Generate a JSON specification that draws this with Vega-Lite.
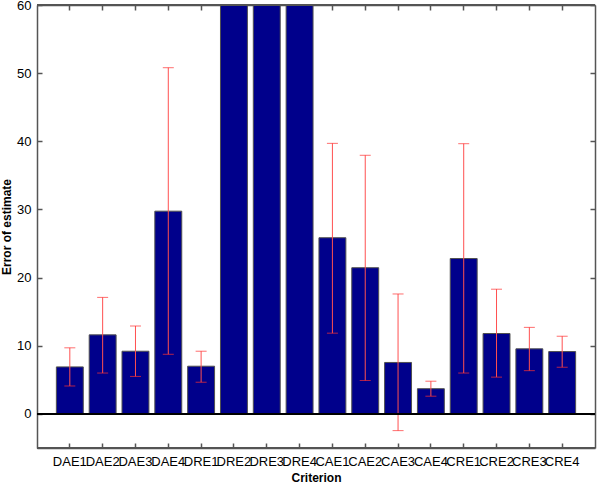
{
  "$schema": "https://vega.github.io/schema/vega-lite/v6.json",
  "width": 558,
  "height": 443,
  "autosize": {"type": "none"},
  "padding": {"left": 37, "top": 5, "right": 5, "bottom": 36},
  "background": "white",
  "config": {
    "font": "Liberation Sans",
    "view": {"stroke": null},
    "axis": {
      "grid": false,
      "domain": true,
      "domainColor": "#555555",
      "domainWidth": 1.5,
      "ticks": true,
      "tickColor": "#555555",
      "tickWidth": 1.5,
      "tickSize": -5,
      "labelColor": "black",
      "labelFontSize": 13,
      "labelFont": "Liberation Sans",
      "titleFont": "Liberation Sans",
      "titleFontSize": 12,
      "titleFontWeight": "bold",
      "titleColor": "black"
    }
  },
  "data": {
    "values": [
      {"name": "DAE1", "value": 6.9, "lo": 4.1, "hi": 9.7},
      {"name": "DAE2", "value": 11.6, "lo": 6.0, "hi": 17.1},
      {"name": "DAE3", "value": 9.2, "lo": 5.5, "hi": 12.9},
      {"name": "DAE4", "value": 29.75, "lo": 8.75, "hi": 50.8},
      {"name": "DRE1", "value": 7.0, "lo": 4.65, "hi": 9.2},
      {"name": "DRE2", "value": 75, "lo": null, "hi": null},
      {"name": "DRE3", "value": 75, "lo": null, "hi": null},
      {"name": "DRE4", "value": 75, "lo": null, "hi": null},
      {"name": "CAE1", "value": 25.85, "lo": 11.85, "hi": 39.7},
      {"name": "CAE2", "value": 21.45, "lo": 4.9, "hi": 37.95},
      {"name": "CAE3", "value": 7.55, "lo": -2.45, "hi": 17.6},
      {"name": "CAE4", "value": 3.7, "lo": 2.6, "hi": 4.8},
      {"name": "CRE1", "value": 22.8, "lo": 6.0, "hi": 39.65},
      {"name": "CRE2", "value": 11.8, "lo": 5.4, "hi": 18.3},
      {"name": "CRE3", "value": 9.55, "lo": 6.35, "hi": 12.7},
      {"name": "CRE4", "value": 9.15, "lo": 6.85, "hi": 11.4}
    ]
  },
  "resolve": {"axis": {"x": "independent", "y": "independent"}},
  "layer": [
    {
      "mark": {"type": "bar", "color": "#00008b", "stroke": "#505050", "strokeWidth": 1, "clip": true},
      "encoding": {
        "x": {
          "field": "name", "type": "nominal", "sort": null,
          "scale": {"paddingInner": 0.18, "paddingOuter": 0.59},
          "axis": {"orient": "bottom", "title": "Criterion", "labelAngle": 0, "labelPadding": 12, "titlePadding": 4}
        },
        "y": {
          "field": "value", "type": "quantitative",
          "scale": {"domain": [-5, 60], "nice": false, "zero": false},
          "axis": {"orient": "left", "title": "Error of estimate", "values": [0, 10, 20, 30, 40, 50, 60], "labelPadding": 11, "titlePadding": 3}
        }
      }
    },
    {
      "mark": {"type": "rule", "color": "#ff5050", "strokeWidth": 1, "clip": true},
      "encoding": {
        "x": {"field": "name", "type": "nominal", "sort": null, "axis": null},
        "y": {"field": "lo", "type": "quantitative", "axis": null},
        "y2": {"field": "hi"}
      }
    },
    {
      "mark": {"type": "tick", "color": "#ff3030", "size": 11, "thickness": 1, "clip": true},
      "encoding": {
        "x": {"field": "name", "type": "nominal", "sort": null, "axis": null},
        "y": {"field": "lo", "type": "quantitative", "axis": null}
      }
    },
    {
      "mark": {"type": "tick", "color": "#ff3030", "size": 11, "thickness": 1, "clip": true},
      "encoding": {
        "x": {"field": "name", "type": "nominal", "sort": null, "axis": null},
        "y": {"field": "hi", "type": "quantitative", "axis": null}
      }
    },
    {
      "mark": {"type": "rule", "color": "black", "strokeWidth": 1},
      "encoding": {"y": {"datum": 0, "type": "quantitative", "axis": null}}
    },
    {
      "mark": {"type": "rule", "color": "#555555", "strokeWidth": 1.5},
      "encoding": {"y": {"datum": 60, "type": "quantitative", "axis": null}}
    },
    {
      "mark": {"type": "rule", "color": "#555555", "strokeWidth": 1.5},
      "encoding": {"y": {"datum": -5, "type": "quantitative", "axis": null}}
    },
    {
      "mark": {"type": "tick", "opacity": 0},
      "encoding": {
        "x": {"field": "name", "type": "nominal", "sort": null, "axis": {"orient": "top", "labels": false, "title": null}},
        "y": {"field": "value", "type": "quantitative", "axis": {"orient": "right", "labels": false, "title": null, "values": [0, 10, 20, 30, 40, 50, 60]}}
      }
    }
  ]
}
